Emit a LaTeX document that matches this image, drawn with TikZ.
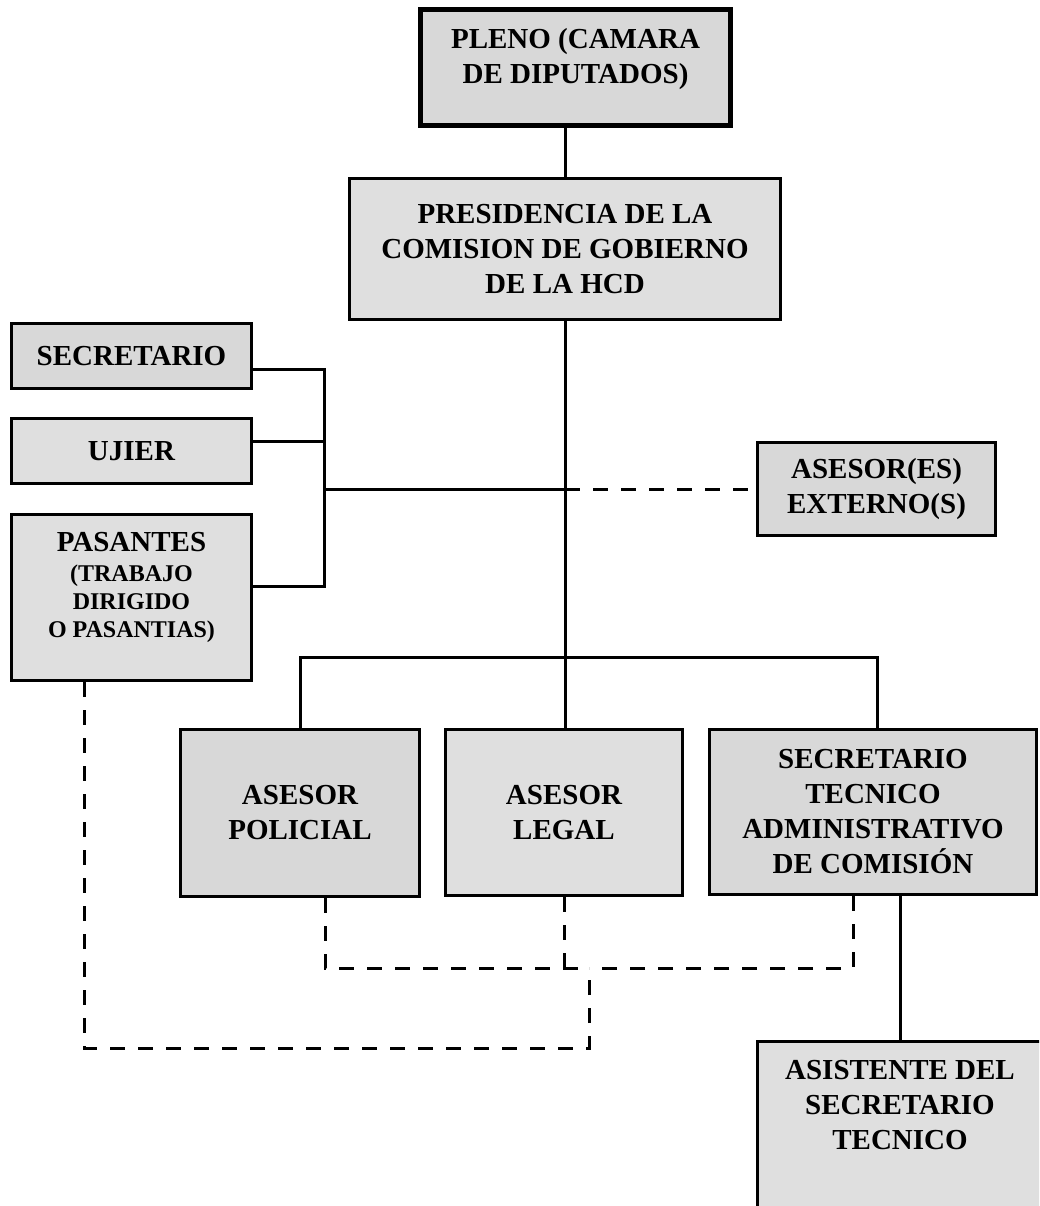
\documentclass[tikz,border=0pt]{standalone}
\usepackage{fontspec}
\setmainfont{Liberation Serif}
\usetikzlibrary{positioning, calc}
\definecolor{boxdk}{RGB}{216,216,216}
\definecolor{boxlt}{RGB}{223,223,223}
\newcommand{\pasfont}{\fontsize{24}{28}\selectfont}

\begin{document}
\begin{tikzpicture}[x=1pt, y=-1pt, font=\fontsize{29}{35}\selectfont\bfseries,
    org/.style={draw, line width=3pt, fill=boxdk, align=center, inner sep=0pt},
    orglt/.style={org, fill=boxlt},
    lbl/.style={align=center, inner sep=0pt},
    link/.style={line width=3pt},
    dlink/.style={line width=3pt, dash pattern=on 15pt off 13pt}]
    \useasboundingbox (0,0) rectangle (1039,1206);
    \clip (0,0) rectangle (1039,1206);

    % top of the chart
    \node[org, line width=4.5pt, minimum width=310pt, minimum height=116pt] (pleno) at (575.5,67.5) {};
    \node[lbl] (pleno-t) at (575.5,59) {PLENO (CAMARA\\DE DIPUTADOS)};
    \node[orglt, minimum width=431pt, minimum height=141pt] (pres) at (565,249) {PRESIDENCIA DE LA\\COMISION DE GOBIERNO\\DE LA HCD};

    % staff on the left
    \node[org, minimum width=240pt, minimum height=65pt] (secr) at (131.5,356) {SECRETARIO};
    \node[orglt, minimum width=240pt, minimum height=65pt] (ujier) at (131.5,451) {UJIER};
    \node[orglt, minimum width=240pt, minimum height=166pt] (pas) at (131.5,597.5) {};
    \node[lbl] (pas-t) at (131.5,587) {PASANTES\\[-5pt]\pasfont (TRABAJO\\[-7pt]\pasfont DIRIGIDO\\[-7pt]\pasfont O PASANTIAS)};
    \node[org, minimum width=238pt, minimum height=93pt] (ext) at (876.5,489) {ASESOR(ES)\\EXTERNO(S)};

    % advisers
    \node[org, minimum width=239pt, minimum height=167pt] (pol) at (300,813) {ASESOR\\POLICIAL};
    \node[orglt, minimum width=237pt, minimum height=166pt] (leg) at (564,812.5) {ASESOR\\LEGAL};
    \node[org, minimum width=327pt, minimum height=165pt] (stec) at (873,812) {SECRETARIO\\TECNICO\\ADMINISTRATIVO\\DE COMISIÓN};
    \node[orglt, minimum width=287pt, minimum height=258pt] (asis) at (900.75,1170) {};
    \node[lbl] (asis-t) at (900,1105) {ASISTENTE DEL\\SECRETARIO\\TECNICO};

    \coordinate (brk) at (324,489);
    \coordinate (bus) at (565,657);
    \coordinate (j1) at (589,968);
    \coordinate (j2) at (589,1048);

    \draw[link] (pleno.south -| pres.north) -- (pres.north);
    \draw[link] (pres.south) -- (pres.south |- leg.north);
    \draw[link] ([yshift=-13pt]secr.east) -| (brk) |- ([yshift=11.5pt]pas.east);
    \draw[link] ([yshift=10pt]ujier.east) -- ([yshift=10pt]ujier.east -| brk);
    \draw[link] (brk) -- (brk -| pres.south);
    \draw[dlink] (brk -| pres.south) -- (ext.west);
    \draw[link] (pol.north) |- (bus) -| ([xshift=4pt]stec.north);
    \draw[link] (asis.north |- stec.south) -- (asis.north);

    \draw[dlink] ([xshift=25pt]pol.south) |- (j1);
    \draw[dlink] ([xshift=-20pt]stec.south) |- (j1);
    \draw[dlink] (leg.south) -- (leg.south |- j1);
    \draw[dlink] ([xshift=-47.5pt]pas.south) |- (j2) -- (j1);
\end{tikzpicture}
\end{document}
